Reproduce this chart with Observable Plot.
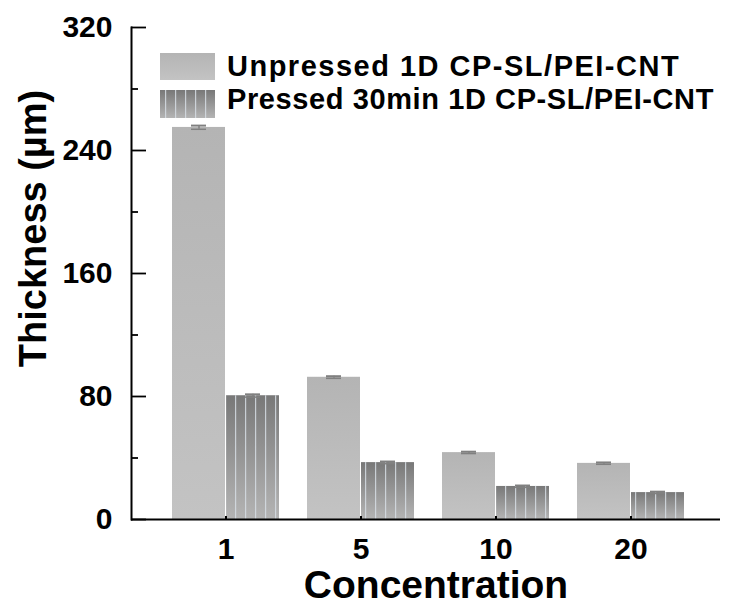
<!DOCTYPE html>
<html>
<head>
<meta charset="utf-8">
<script src="https://cdn.jsdelivr.net/npm/d3@7"></script>
<script src="https://cdn.jsdelivr.net/npm/@observablehq/plot@0.6"></script>
<style>
  html, body { margin: 0; padding: 0; background: #fff; }
  #chart { width: 733px; height: 608px; }
  svg { font-family: "Liberation Sans", Arial, sans-serif; }
</style>
</head>
<body>
<div id="chart"></div>
<script>
const categories = ["1", "5", "10", "20"];
const seriesNames = ["Unpressed 1D CP-SL/PEI-CNT", "Pressed 30min 1D CP-SL/PEI-CNT"];
const unpressed = [255, 92.5, 43.5, 36.5];
const unpressedErr = [1.2, 0.7, 0.6, 0.6];
const pressed = [80.5, 37, 21.5, 17.5];
const pressedErr = [0.9, 0.7, 0.6, 0.6];
const yTicks = [0, 80, 160, 240, 320];
const yMinorTicks = [40, 120, 200, 280];
const xLabel = "Concentration";
const yLabel = "Thickness (\u00b5m)";

const rowsU = categories.map((c, i) => ({cat: c, v: unpressed[i], e: unpressedErr[i]}));
const rowsP = categories.map((c, i) => ({cat: c, v: pressed[i], e: pressedErr[i]}));

const half = 54; // half of band width, px (style)

const plot = Plot.plot({
  width: 733,
  height: 608,
  marginLeft: 131,
  marginRight: 13,
  marginTop: 27,
  marginBottom: 89,
  style: {fontFamily: "Liberation Sans, Arial, sans-serif", fontWeight: "bold", color: "#000", background: "#fff"},
  x: {domain: categories, paddingInner: 0.206, paddingOuter: 0.272, align: 0.54, label: null},
  y: {domain: [0, 320], label: null},
  marks: [
    Plot.barY(rowsU, {x: "cat", y: "v", fill: "url(#gradU)", insetRight: half}),
    Plot.barY(rowsP, {x: "cat", y: "v", fill: "url(#gradP)", insetLeft: half}),
    Plot.barY(rowsP, {x: "cat", y: "v", fill: "url(#stripes)", insetLeft: half}),
    // error bars
    Plot.ruleX(rowsU, {x: "cat", y1: d => d.v - d.e, y2: d => d.v + d.e, dx: -half / 2, stroke: "#808080", strokeWidth: 1.5}),
    Plot.tickY(rowsU, {x: "cat", y: d => d.v + d.e, insetLeft: 19, insetRight: half + 19, stroke: "#808080", strokeWidth: 2}),
    Plot.tickY(rowsU, {x: "cat", y: d => d.v - d.e, insetLeft: 19, insetRight: half + 19, stroke: "#808080", strokeWidth: 1.5}),
    Plot.ruleX(rowsP, {x: "cat", y1: d => d.v - d.e, y2: d => d.v + d.e, dx: half / 2, stroke: "#808080", strokeWidth: 1.5}),
    Plot.tickY(rowsP, {x: "cat", y: d => d.v + d.e, insetLeft: half + 19, insetRight: 19, stroke: "#808080", strokeWidth: 2}),
    Plot.tickY(rowsP, {x: "cat", y: d => d.v - d.e, insetLeft: half + 19, insetRight: 19, stroke: "#808080", strokeWidth: 1.5}),
    // axes
    Plot.axisY({ticks: yTicks, tickSize: -15, text: null, strokeWidth: 1.8}),
    Plot.axisY({ticks: yMinorTicks, tickSize: -7, text: null, strokeWidth: 1.8}),
    Plot.axisY({ticks: yTicks, tickSize: 0, tickPadding: 19, fontSize: 30, fontWeight: "bold"}),
    Plot.axisX({tickSize: -3, text: null, strokeWidth: 2}),
    Plot.axisX({tickSize: 0, tickPadding: 18, fontSize: 30, fontWeight: "bold"}),
    Plot.frame({anchor: "left", strokeWidth: 2}),
    Plot.ruleY([0], {strokeWidth: 2.2}),
    Plot.text([xLabel], {frameAnchor: "bottom", textAnchor: "middle", dx: 10, dy: 78, fontSize: 39, fontWeight: "bold"}),
    Plot.text([yLabel], {frameAnchor: "left", textAnchor: "middle", lineAnchor: "middle", rotate: -90, dx: -98, dy: -45, fontSize: 38, fontWeight: "bold"})
  ]
});

// defs: gradients and stripes
const svg = d3.select(plot);
const defs = svg.insert("defs", ":first-child");
const gU = defs.append("linearGradient").attr("id", "gradU").attr("x1", 0).attr("y1", 0).attr("x2", 0).attr("y2", 1);
gU.append("stop").attr("offset", "0%").attr("stop-color", "#b4b4b4");
gU.append("stop").attr("offset", "100%").attr("stop-color", "#c3c3c3");
const gP = defs.append("linearGradient").attr("id", "gradP").attr("x1", 0).attr("y1", 0).attr("x2", 0).attr("y2", 1);
gP.append("stop").attr("offset", "0%").attr("stop-color", "#787878");
gP.append("stop").attr("offset", "100%").attr("stop-color", "#b4b4b4");
const pat = defs.append("pattern").attr("id", "stripes").attr("patternUnits", "userSpaceOnUse")
  .attr("x", 0).attr("y", 0).attr("width", 10).attr("height", 20);
pat.append("rect").attr("x", 5).attr("y", 0).attr("width", 1.2).attr("height", 20).attr("fill", "#d6dde4").attr("opacity", 0.85);

// legend (inside plot, top-left)
const leg = svg.append("g").attr("class", "legend");
const swatches = [
  {name: seriesNames[0], fills: ["url(#gradU)"], y: 53, h: 27, base: 76, ls: 1.5},
  {name: seriesNames[1], fills: ["url(#gradP)", "url(#stripes)"], y: 90, h: 28, base: 109, ls: 0.6}
];
swatches.forEach(s => {
  s.fills.forEach(f => leg.append("rect").attr("x", 160).attr("y", s.y).attr("width", 55).attr("height", s.h).attr("fill", f));
  leg.append("text").attr("x", 227).attr("y", s.base).attr("font-size", 29).attr("font-weight", "bold")
    .attr("letter-spacing", s.ls).attr("text-anchor", "start").attr("fill", "#000").text(s.name);
});

document.getElementById("chart").appendChild(plot);
</script>
</body>
</html>
